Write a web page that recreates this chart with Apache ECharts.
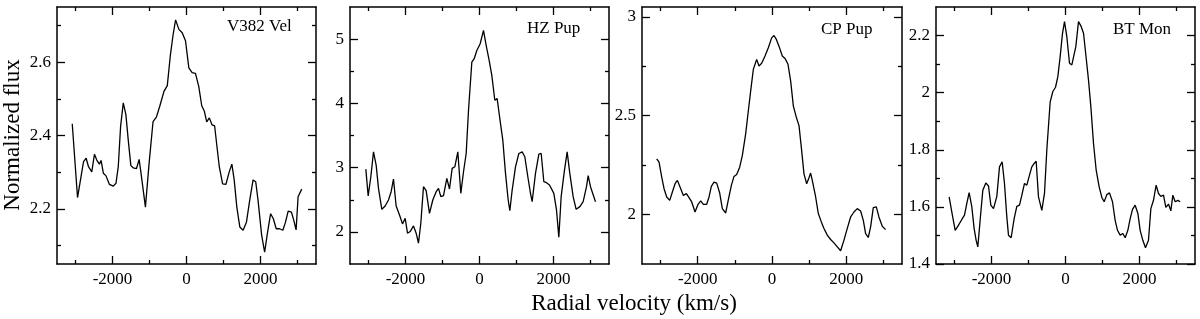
<!DOCTYPE html>
<html>
<head>
<meta charset="utf-8">
<script src="https://cdn.jsdelivr.net/npm/echarts@6/dist/echarts.min.js"></script>
<style>html,body{margin:0;padding:0;background:#fff}#c{width:1200px;height:319px}</style>
</head>
<body>
<div id="c"></div>
<script>
// ---- Data ----
const panelNames = ['V382 Vel', 'HZ Pup', 'CP Pup', 'BT Mon'];

const velV382 = [-3088,-2945,-2783,-2712,-2649,-2560,-2488,-2425,-2354,-2309,-2246,-2175,-2085,-1978,-1906,-1844,-1781,-1709,-1638,-1575,-1504,-1441,-1351,-1280,-1217,-1110,-1011,-904,-814,-725,-609,-519,-439,-367,-295,-206,-116,-27,63,152,242,331,412,483,546,617,689,761,823,886,976,1065,1155,1226,1289,1360,1441,1530,1620,1709,1799,1871,1933,2032,2112,2184,2273,2345,2425,2515,2604,2676,2748,2837,2900,2962,3016,3114];
const fluxV382 = [2.432,2.231,2.329,2.338,2.315,2.301,2.349,2.333,2.322,2.332,2.297,2.290,2.267,2.262,2.270,2.315,2.425,2.489,2.457,2.388,2.318,2.312,2.310,2.335,2.288,2.205,2.324,2.438,2.450,2.479,2.520,2.536,2.616,2.671,2.715,2.689,2.680,2.658,2.584,2.571,2.569,2.534,2.481,2.466,2.437,2.448,2.429,2.426,2.370,2.315,2.268,2.267,2.301,2.322,2.279,2.205,2.151,2.142,2.164,2.224,2.279,2.274,2.224,2.128,2.082,2.132,2.187,2.174,2.146,2.146,2.142,2.164,2.194,2.191,2.169,2.143,2.233,2.254];

const velHZ = [-3072,-3009,-2937,-2865,-2793,-2730,-2640,-2550,-2460,-2388,-2325,-2253,-2162,-2081,-2009,-1946,-1874,-1784,-1712,-1649,-1586,-1514,-1442,-1352,-1262,-1171,-1108,-1045,-973,-883,-811,-739,-667,-586,-505,-432,-360,-297,-207,-144,-72,18,108,180,261,333,414,477,549,630,703,775,820,883,973,1063,1153,1225,1306,1378,1423,1513,1604,1667,1739,1811,1892,1946,2009,2081,2144,2207,2297,2369,2441,2531,2612,2712,2802,2892,2937,3000,3135];
const fluxHZ = [2.977,2.558,2.858,3.246,3.039,2.677,2.351,2.403,2.496,2.625,2.822,2.403,2.263,2.124,2.212,1.979,2.005,2.093,1.979,1.824,2.134,2.703,2.641,2.289,2.496,2.625,2.677,2.548,2.563,2.832,2.667,2.988,3.013,3.246,2.600,2.936,3.220,3.893,4.643,4.695,4.824,4.928,5.135,4.902,4.669,4.436,4.048,4.074,3.764,3.427,2.910,2.496,2.331,2.651,3.013,3.220,3.246,3.169,2.858,2.600,2.470,2.910,3.210,3.220,2.781,2.765,2.729,2.755,2.600,2.341,1.917,2.548,2.962,3.246,2.910,2.548,2.351,2.393,2.470,2.703,2.874,2.703,2.470];

const velCP = [-3104,-3041,-2969,-2906,-2835,-2754,-2682,-2610,-2547,-2476,-2386,-2305,-2234,-2162,-2072,-1991,-1920,-1848,-1758,-1695,-1633,-1561,-1489,-1408,-1337,-1247,-1175,-1094,-1023,-951,-870,-798,-709,-637,-574,-502,-413,-350,-278,-188,-99,-9,54,117,188,278,350,431,502,574,655,727,789,861,933,996,1040,1085,1175,1247,1328,1399,1489,1579,1668,1758,1848,1938,2027,2117,2207,2296,2386,2458,2521,2592,2655,2727,2808,2879,2969,3059];
const fluxCP = [2.282,2.265,2.190,2.131,2.089,2.072,2.114,2.156,2.173,2.139,2.097,2.106,2.086,2.064,2.013,2.052,2.069,2.052,2.052,2.089,2.143,2.164,2.159,2.109,2.030,2.008,2.076,2.148,2.193,2.203,2.240,2.299,2.408,2.525,2.626,2.735,2.785,2.752,2.765,2.802,2.844,2.894,2.906,2.886,2.852,2.802,2.790,2.760,2.676,2.550,2.492,2.450,2.341,2.206,2.156,2.186,2.210,2.173,2.089,2.005,1.963,1.930,1.896,1.874,1.857,1.837,1.817,1.871,1.930,1.988,2.013,2.030,2.018,1.971,1.904,1.884,1.938,2.035,2.039,1.988,1.941,1.924];

const velBT = [-3145,-3072,-2982,-2892,-2802,-2730,-2667,-2604,-2532,-2469,-2415,-2370,-2307,-2235,-2153,-2081,-2018,-1946,-1856,-1784,-1712,-1649,-1586,-1541,-1469,-1388,-1316,-1243,-1180,-1108,-1045,-973,-910,-847,-793,-730,-640,-568,-505,-414,-342,-270,-207,-144,-81,-27,36,108,171,216,279,351,423,487,550,622,685,757,829,910,982,1045,1117,1189,1270,1342,1405,1477,1550,1613,1685,1748,1811,1883,1956,2018,2090,2162,2243,2307,2378,2450,2514,2577,2649,2712,2784,2847,2901,2964,3036,3099];
const fluxBT = [1.635,1.582,1.518,1.536,1.556,1.571,1.612,1.650,1.600,1.524,1.483,1.460,1.553,1.658,1.684,1.673,1.606,1.594,1.637,1.740,1.758,1.682,1.565,1.501,1.492,1.559,1.602,1.606,1.641,1.682,1.676,1.711,1.740,1.752,1.760,1.635,1.588,1.647,1.799,1.968,2.004,2.019,2.056,2.126,2.208,2.249,2.196,2.103,2.097,2.091,2.161,2.249,2.232,2.208,2.132,2.044,1.951,1.822,1.729,1.670,1.633,1.618,1.643,1.649,1.618,1.553,1.518,1.501,1.507,1.492,1.518,1.559,1.591,1.606,1.577,1.518,1.483,1.457,1.483,1.594,1.623,1.676,1.647,1.637,1.641,1.598,1.610,1.586,1.641,1.618,1.623,1.618];

// axis ranges and ticks
const xMin = -3500, xMax = 3500;
const xMajor = [-2000, 0, 2000];
const xMinor = [-3000, -1000, 1000, 3000];

const yMins = [2.05, 1.5, 1.75, 1.4];
const yMaxs = [2.75, 5.5, 3.05, 2.3];
const yMajors = [[2.2, 2.4, 2.6], [2, 3, 4, 5], [2, 2.5, 3], [1.4, 1.6, 1.8, 2.0, 2.2]];
const yMinors = [[2.1, 2.3, 2.5, 2.7], [2.5, 3.5, 4.5], [2.25, 2.75], [1.5, 1.7, 1.9, 2.1]];

const vels = [velV382, velHZ, velCP, velBT];
const fluxes = [fluxV382, fluxHZ, fluxCP, fluxBT];

// ---- Layout ----
const grids = [
  {left: 57, top: 7, width: 259, height: 257},
  {left: 350, top: 7, width: 259, height: 257},
  {left: 642, top: 7, width: 260, height: 257},
  {left: 936, top: 7, width: 259, height: 257}
];
const labelPos = [[227, 27], [527, 29], [821, 30], [1113, 30]];

const FONT = 'Liberation Serif';
const lineSty = {color: '#000', width: 1.5};
const tickSty = {color: '#000', width: 1.3};

function mkAxis(kind, g, pos, vals, len, withLabels, withLine) {
  const isX = kind === 'x';
  const a = {
    type: 'value', gridIndex: g, position: pos,
    min: isX ? xMin : yMins[g], max: isX ? xMax : yMaxs[g],
    axisLine: {show: withLine, onZero: false, lineStyle: lineSty},
    axisTick: {show: true, inside: true, length: len, customValues: vals, lineStyle: tickSty},
    splitLine: {show: false},
    minorTick: {show: false},
    axisLabel: {show: false}
  };
  if (withLabels) {
    a.axisLabel = {show: true, customValues: vals, color: '#000', fontFamily: FONT, fontSize: 17,
                   margin: isX ? 7 : 6, showMinLabel: true, showMaxLabel: true,
                   formatter: function (v) { return String(+v.toFixed(4)); }};
  }
  return a;
}

const xAxes = [], yAxes = [], series = [], graphics = [];
for (let g = 0; g < 4; g++) {
  xAxes.push(mkAxis('x', g, 'bottom', xMajor, 8, true, true));
  xAxes.push(mkAxis('x', g, 'bottom', xMinor, 4, false, false));
  xAxes.push(mkAxis('x', g, 'top', xMajor, 8, false, true));
  xAxes.push(mkAxis('x', g, 'top', xMinor, 4, false, false));
  yAxes.push(mkAxis('y', g, 'left', yMajors[g], 8, true, true));
  yAxes.push(mkAxis('y', g, 'left', yMinors[g], 4, false, false));
  yAxes.push(mkAxis('y', g, 'right', yMajors[g], 8, false, true));
  yAxes.push(mkAxis('y', g, 'right', yMinors[g], 4, false, false));
  series.push({
    type: 'line', xAxisIndex: g * 4, yAxisIndex: g * 4,
    data: vels[g].map((v, i) => [v, fluxes[g][i]]),
    showSymbol: false, symbol: 'none', smooth: false,
    lineStyle: {color: '#000', width: 1.3}, z: 3
  });
  graphics.push({
    type: 'text', x: labelPos[g][0], y: labelPos[g][1],
    style: {text: panelNames[g], fill: '#000', font: '17px "' + FONT + '"', textAlign: 'left', textVerticalAlign: 'middle'}
  });
}
graphics.push({
  type: 'text', x: 13, y: 135, rotation: Math.PI / 2,
  style: {text: 'Normalized flux', fill: '#000', font: '23px "' + FONT + '"', textAlign: 'center', textVerticalAlign: 'middle'}
});
graphics.push({
  type: 'text', x: 634, y: 304,
  style: {text: 'Radial velocity (km/s)', fill: '#000', font: '23px "' + FONT + '"', textAlign: 'center', textVerticalAlign: 'middle'}
});

const chart = echarts.init(document.getElementById('c'), null, {renderer: 'canvas'});
chart.setOption({
  animation: false,
  backgroundColor: '#fff',
  grid: grids,
  xAxis: xAxes,
  yAxis: yAxes,
  series: series,
  graphic: graphics
});
</script>
</body>
</html>
